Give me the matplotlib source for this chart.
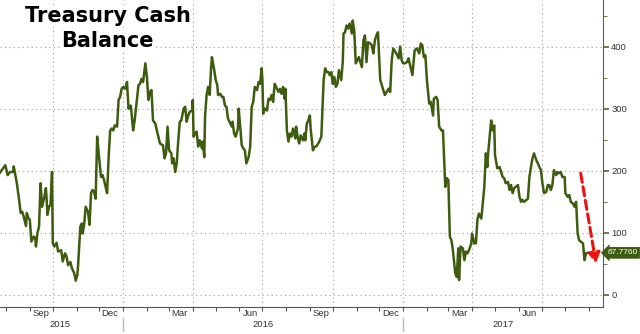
import numpy as np
import pandas as pd
import matplotlib
matplotlib.use("Agg")
import matplotlib.pyplot as plt
import matplotlib.dates as mdates

# days after 2015-07-24 and balance ($bn)
start = pd.Timestamp("2015-07-24")
days = [0, 7, 10, 13, 17, 18, 22, 25, 27, 29,
        31, 34, 35, 37, 39, 41, 44, 46, 47, 49,
        51, 53, 55, 58, 60, 61, 62, 64, 66, 68,
        69, 71, 74, 76, 80, 82, 85, 87, 89, 92,
        94, 97, 99, 101, 102, 105, 107, 108, 110, 112,
        115, 117, 119, 121, 123, 125, 127, 129, 132, 134,
        136, 138, 140, 142, 144, 146, 148, 150, 153, 155,
        157, 159, 161, 164, 166, 168, 169, 171, 174, 176,
        181, 183, 185, 187, 190, 192, 194, 196, 198, 200,
        203, 205, 207, 209, 213, 215, 217, 219, 221, 224,
        225, 227, 229, 231, 233, 235, 237, 240, 242, 244,
        246, 248, 251, 252, 253, 255, 257, 259, 261, 264,
        265, 267, 268, 270, 272, 274, 276, 277, 280, 282,
        284, 285, 288, 290, 292, 294, 296, 298, 301, 303,
        304, 306, 308, 311, 312, 314, 316, 318, 320, 322,
        325, 327, 329, 331, 333, 336, 338, 340, 342, 343,
        344, 346, 349, 351, 353, 355, 357, 359, 362, 364,
        366, 368, 370, 372, 373, 375, 377, 379, 381, 383,
        386, 387, 389, 391, 393, 396, 398, 399, 401, 403,
        405, 406, 409, 411, 414, 416, 418, 420, 422, 423,
        425, 427, 429, 431, 433, 435, 437, 439, 441, 443,
        446, 448, 449, 451, 453, 455, 457, 460, 461, 463,
        465, 467, 469, 471, 473, 475, 477, 479, 481, 484,
        486, 488, 490, 492, 494, 497, 503, 508, 510, 512,
        514, 518, 521, 523, 525, 527, 529, 532, 534, 536,
        539, 542, 545, 548, 550, 552, 554, 556, 558, 561,
        563, 566, 567, 570, 572, 574, 577, 579, 582, 584,
        586, 588, 590, 592, 595, 597, 599, 600, 602, 605,
        607, 609, 611, 613, 616, 617, 620, 622, 624, 626,
        629, 630, 633, 635, 637, 638, 640, 642, 644, 646,
        647, 650, 653, 655, 657, 659, 661, 664, 666, 668,
        670, 672, 674, 677, 679, 681, 683, 685, 688, 690,
        692, 694, 696, 698, 701, 703, 705, 707, 709, 711,
        714, 716, 718, 720, 722, 724, 727, 729, 731, 733,
        735, 738, 739, 742, 744, 746, 749, 751, 753, 755,
        757, 759, 762, 764, 766, 768]
balance = [197, 209, 193, 198, 198, 207, 180, 153, 132, 134,
           126, 111, 132, 124, 121, 86, 94, 92, 78, 100,
           110, 180, 142, 158, 172, 153, 129, 142, 145, 198,
           83, 78, 84, 70, 72, 54, 67, 62, 48, 53,
           43, 35, 23, 32, 46, 110, 115, 99, 113, 142,
           134, 113, 164, 169, 166, 155, 255, 228, 190, 193,
           185, 174, 164, 222, 265, 268, 265, 273, 271, 314,
           319, 332, 335, 332, 343, 300, 303, 305, 265, 281,
           338, 340, 348, 343, 373, 351, 314, 327, 330, 281,
           276, 265, 255, 244, 241, 220, 228, 271, 233, 228,
           212, 220, 198, 212, 249, 279, 281, 300, 303, 279,
           289, 295, 297, 314, 255, 260, 263, 239, 249, 236,
           247, 222, 287, 322, 335, 322, 367, 383, 362, 346,
           338, 322, 324, 319, 319, 305, 303, 284, 276, 271,
           279, 260, 255, 268, 300, 271, 241, 236, 233, 212,
           222, 239, 303, 311, 335, 330, 343, 340, 365, 346,
           292, 300, 297, 316, 314, 322, 311, 340, 332, 327,
           332, 324, 335, 316, 332, 265, 247, 260, 255, 268,
           252, 271, 255, 244, 257, 249, 260, 249, 276, 281,
           289, 268, 233, 238, 240, 244, 249, 255, 314, 346,
           365, 359, 359, 354, 359, 340, 351, 335, 340, 362,
           346, 375, 421, 423, 434, 429, 437, 421, 442, 426,
           373, 378, 383, 375, 367, 410, 418, 375, 407, 405,
           402, 389, 410, 418, 423, 346, 322, 332, 327, 378,
           397, 389, 381, 400, 378, 373, 373, 375, 381, 370,
           354, 394, 397, 389, 405, 402, 383, 386, 346, 308,
           311, 289, 316, 319, 314, 271, 265, 265, 174, 188,
           185, 94, 88, 72, 35, 29, 75, 24, 78, 75,
           56, 70, 67, 72, 83, 99, 83, 83, 121, 131,
           123, 134, 174, 228, 206, 228, 255, 281, 265, 273,
           225, 204, 206, 198, 190, 188, 180, 182, 169, 177,
           164, 172, 174, 177, 158, 150, 153, 150, 153, 155,
           190, 206, 220, 228, 217, 212, 206, 201, 180, 164,
           166, 177, 177, 169, 177, 201, 193, 198, 196, 198,
           190, 190, 164, 158, 161, 150, 147, 142, 150, 99,
           88, 86, 83, 56, 67, 67.776]

month_labels = ["Sep", "Dec", "Mar", "Jun", "Sep", "Dec", "Mar", "Jun"]
month_label_dates = ["2015-09-15", "2015-12-15", "2016-03-15", "2016-06-15",
                     "2016-09-15", "2016-12-15", "2017-03-15", "2017-06-15"]
years = ["2015", "2016", "2017"]
year_label_dates = ["2015-10-10", "2016-07-02", "2017-05-12"]
y_ticks = [0, 100, 200, 300, 400]

# red arrow (start, end)
arrow_from = ("2017-08-21", 196)
arrow_to = ("2017-09-10", 51)

dates = start + pd.to_timedelta(days, unit="D")
last = balance[-1]

green = "#3e5c10"
axis_col = "#55662f"
small = dict(family="Liberation Sans", size=6.8)

fig = plt.figure(figsize=(6.4, 3.34), dpi=100)
ax = fig.add_axes([0.0, 0.082, 0.942, 0.918])

ax.plot(dates, balance, color=green, lw=1.8, solid_joinstyle="round", zorder=3)

ax.set_xlim(start, start + pd.Timedelta(days=788))
ax.set_ylim(-18.8, 475)

# grid
for d in pd.date_range("2015-10-01", "2017-07-01", freq="3MS"):
    ax.axvline(d, color="#999999", lw=0.8, ls=(0, (1, 3)), zorder=1)
for v in y_ticks:
    ax.axhline(v, color="#999999", lw=0.8, ls=(0, (1, 3)), zorder=1)

# x axis
ax.xaxis.set_major_locator(mdates.MonthLocator())
ax.xaxis.set_major_formatter(plt.NullFormatter())
ax.set_xticks([mdates.date2num(pd.Timestamp(d)) for d in month_label_dates], minor=True)
ax.set_xticklabels(month_labels, minor=True, fontdict=small)
ax.tick_params(axis="x", which="major", length=3, color="#555555", direction="out")
ax.tick_params(axis="x", which="minor", length=0, pad=2, labelcolor="#333333")

xt = ax.get_xaxis_transform()
for lab, d in zip(years, year_label_dates):
    ax.text(pd.Timestamp(d), -0.058, lab, transform=xt, ha="center", va="center",
            color="#333333", **small)
for d in ["2016-01-01", "2017-01-01"]:
    ax.plot([pd.Timestamp(d)] * 2, [-0.038, -0.08], transform=xt, color="#bbbbbb",
            lw=1, clip_on=False)

# y axis on the right
ax.yaxis.tick_right()
ax.set_yticks(y_ticks)
ax.set_yticklabels([str(v) for v in y_ticks], fontdict=small)
ax.set_yticks([50, 150, 250, 350, 450], minor=True)
ax.tick_params(axis="y", which="major", length=4, width=1.2, color=axis_col,
               labelcolor="#333333", pad=2)
ax.tick_params(axis="y", which="minor", length=3, color=axis_col)

ax.spines["top"].set_visible(False)
ax.spines["left"].set_visible(False)
ax.spines["right"].set_color(axis_col)
ax.spines["bottom"].set_color("#555555")

# last value tag
ax.annotate(f"{last:.4f}", xy=(1.0, last), xycoords=ax.get_yaxis_transform(),
            xytext=(3.2, 0), textcoords="offset points", ha="left", va="center",
            color="white", annotation_clip=False,
            bbox=dict(boxstyle="larrow,pad=0.28", fc=green, ec="none"),
            family="Liberation Sans", size=6.0)

# red dashed arrow
a0 = (pd.Timestamp(arrow_from[0]), arrow_from[1])
a1 = (pd.Timestamp(arrow_to[0]), arrow_to[1])
ax.annotate("", xy=a1, xytext=a0,
            arrowprops=dict(arrowstyle="-|>,head_length=0.6,head_width=0.35",
                            color="#ee1111", lw=2.2, ls=(0, (3, 1.5)),
                            shrinkA=0, shrinkB=0), zorder=4)

# title
for txt, y in [("Treasury Cash", 0.952), ("Balance", 0.877)]:
    fig.text(0.168, y, txt, ha="center", va="center", fontsize=15,
             fontweight="bold", color="black",
             bbox=dict(fc="white", ec="none", pad=0.5))

fig.savefig("out.png", dpi=100)
